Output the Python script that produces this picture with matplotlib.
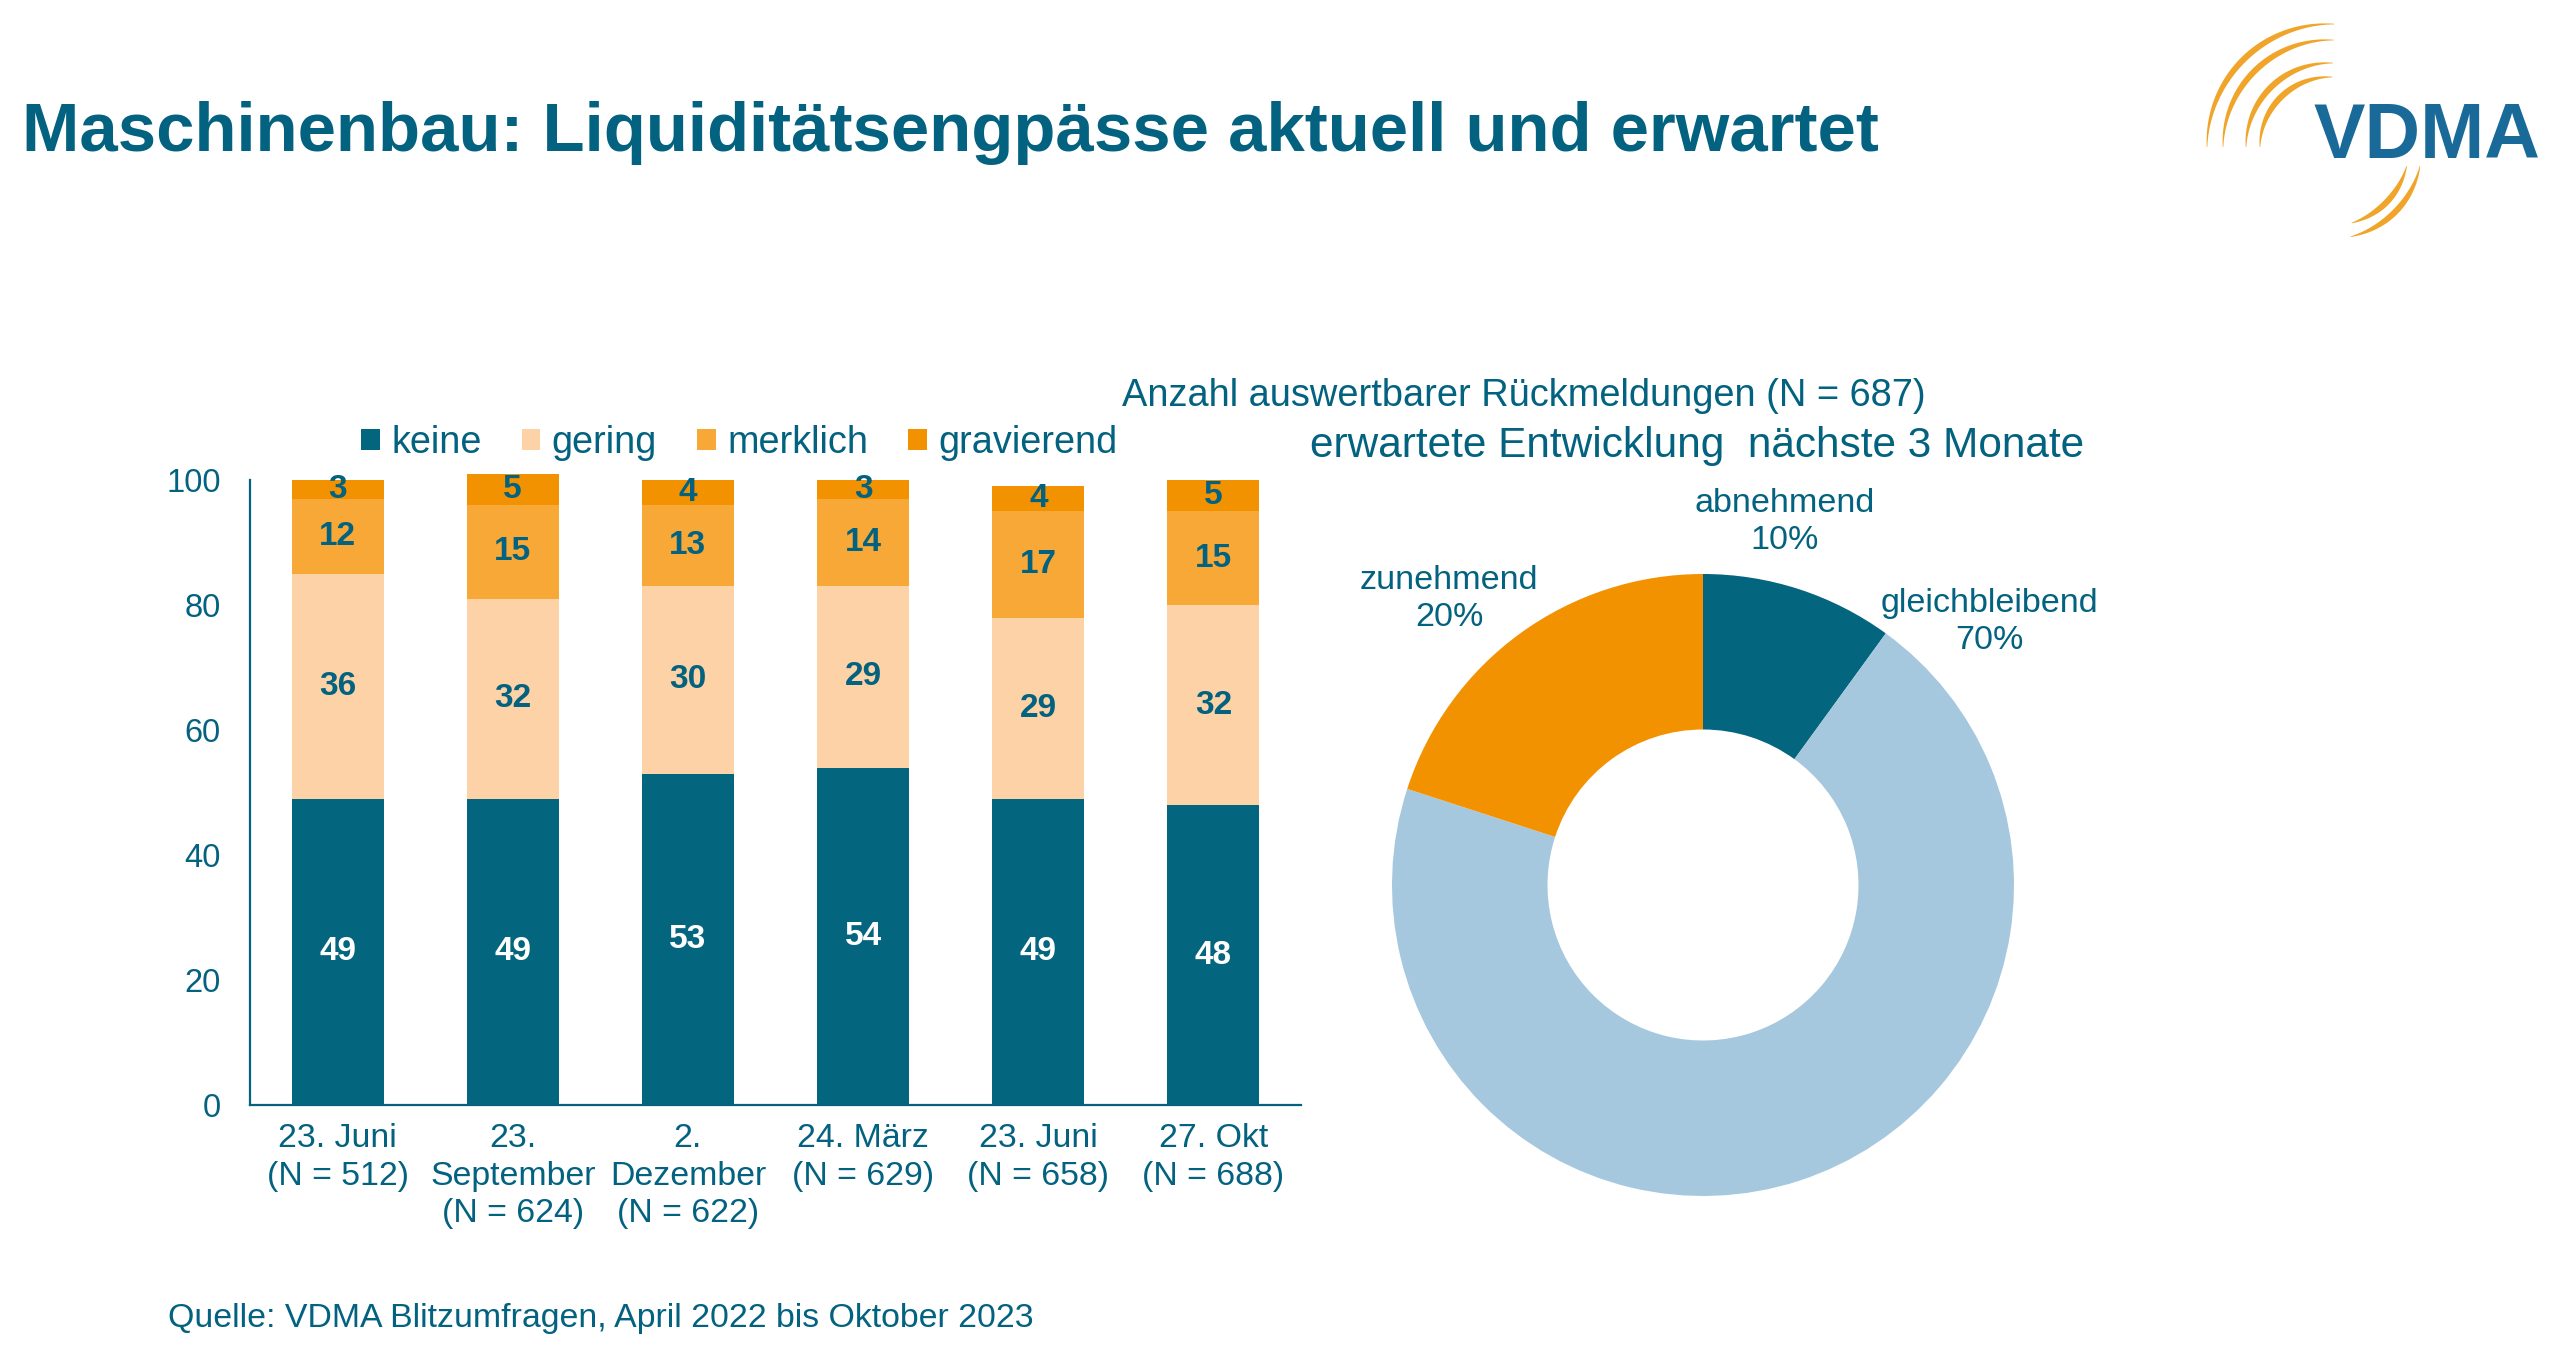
import numpy as np
import matplotlib
matplotlib.use("Agg")
import matplotlib.pyplot as plt
from matplotlib.patches import Patch, Polygon

plt.rcParams['font.family'] = ['Liberation Sans', 'DejaVu Sans']

# ---------------- data ----------------
categories = ["23. Juni\n(N = 512)", "23.\nSeptember\n(N = 624)", "2.\nDezember\n(N = 622)",
              "24. März\n(N = 629)", "23. Juni\n(N = 658)", "27. Okt\n(N = 688)"]
series_names = ["keine", "gering", "merklich", "gravierend"]
keine = [49, 49, 53, 54, 49, 48]
gering = [36, 32, 30, 29, 29, 32]
merklich = [12, 15, 13, 14, 17, 15]
gravierend = [3, 5, 4, 3, 4, 5]
y_ticks = [0, 20, 40, 60, 80, 100]

pie_labels = ["abnehmend", "gleichbleibend", "zunehmend"]
pie_values = [10, 70, 20]

title = "Maschinenbau: Liquiditätsengpässe aktuell und erwartet"
pie_title1 = "Anzahl auswertbarer Rückmeldungen (N = 687)"
pie_title2 = "erwartete Entwicklung  nächste 3 Monate"
source = "Quelle: VDMA Blitzumfragen, April 2022 bis Oktober 2023"

# ---------------- style ----------------
TEAL = "#03627F"
C_KEINE = "#04657F"
C_GERING = "#FDD2A7"
C_MERKLICH = "#F8A836"
C_GRAV = "#F39200"
C_LIGHTBLUE = "#A6C8DF"
LOGO_BLUE = "#1A6A99"
LOGO_ORANGE = "#F0A52A"

W, H = 2560, 1359
fig = plt.figure(figsize=(W / 100, H / 100), dpi=100)

# overlay in pixel coordinates for free text and logo
ov = fig.add_axes([0, 0, 1, 1])
ov.set_xlim(0, W)
ov.set_ylim(H, 0)
ov.axis("off")

ov.text(22, 151, title, fontsize=49.6, fontweight="bold", color=TEAL,
        ha="left", va="baseline")
ov.text(168, 1327, source, fontsize=24.4, color=TEAL, ha="left", va="baseline")
ov.text(1524, 396, pie_title1, fontsize=27.4, color=TEAL, ha="center", va="center")
ov.text(1697, 446, pie_title2, fontsize=30.5, color=TEAL, ha="center", va="center")

# ---- logo ----
cx, cy = 2330, 147
def arc(r, a0, a1, w):
    t = np.linspace(0, 1, 80)
    th = np.radians(a0 + (a1 - a0) * t)
    half = w / 2 * np.sin(np.pi * t) + 0.3
    xo = cx + (r + half) * np.cos(th)
    yo = cy - (r + half) * np.sin(th)
    xi = cx + (r - half) * np.cos(th)
    yi = cy - (r - half) * np.sin(th)
    pts = np.column_stack([np.concatenate([xo, xi[::-1]]), np.concatenate([yo, yi[::-1]])])
    ov.add_patch(Polygon(pts, closed=True, facecolor=LOGO_ORANGE, edgecolor="none"))

arc(123, 88, 180, 5.5)
arc(107, 88, 180, 5.5)
arc(84, 88, 180, 5.5)
arc(70, 88, 180, 5.5)
arc(79, -14, -74, 5.5)
arc(92, -12, -77, 5.5)
ov.text(2313, 158, "VDMA", fontsize=55.5, fontweight="bold", color=LOGO_BLUE,
        ha="left", va="baseline")

# ---------------- bar chart ----------------
ax = fig.add_axes([250 / W, 1 - 1105 / H, 1051 / W, 625 / H])
x = np.arange(len(categories))
bw = 0.525
bottom = np.zeros(len(categories))
colors = [C_KEINE, C_GERING, C_MERKLICH, C_GRAV]
txtcol = ["white", TEAL, TEAL, TEAL]
for vals, col, tc, name in zip([keine, gering, merklich, gravierend], colors, txtcol, series_names):
    vals = np.array(vals, dtype=float)
    ax.bar(x, vals, bw, bottom=bottom, color=col, label=name, clip_on=False, zorder=2)
    for xi, b, v in zip(x, bottom, vals):
        ax.text(xi, b + v / 2, f"{int(v)}", ha="center", va="center", fontsize=24,
                fontweight="bold", color=tc, zorder=3, clip_on=False)
    bottom += vals

ax.set_xlim(-0.5, len(categories) - 0.5)
ax.set_ylim(0, 100)
ax.set_yticks(y_ticks)
ax.set_xticks(x)
ax.set_xticklabels(categories, fontsize=24.4, color=TEAL, linespacing=1.28)
ax.tick_params(axis="y", length=0, pad=21, labelsize=23.5, labelcolor=TEAL)
ax.tick_params(axis="x", length=0, pad=13)
for s in ["top", "right"]:
    ax.spines[s].set_visible(False)
for s in ["left", "bottom"]:
    ax.spines[s].set_color(TEAL)
    ax.spines[s].set_linewidth(1.6)
ax.set_facecolor("none")

handles = [Patch(facecolor=c, edgecolor="none") for c in colors]
fig.legend(handles, series_names, loc="center left", bbox_to_anchor=(361 / W, 1 - 443 / H),
           ncol=4, frameon=False, fontsize=27.3, labelcolor=TEAL,
           handlelength=0.5, handleheight=0.5, handletextpad=0.3,
           columnspacing=1.05, borderpad=0, borderaxespad=0)

# ---------------- donut ----------------
R = 311
pcx, pcy = 1703, 885
pax = fig.add_axes([(pcx - R) / W, 1 - (pcy + R) / H, 2 * R / W, 2 * R / H])
pax.pie(pie_values, colors=[C_KEINE, C_LIGHTBLUE, C_GRAV], startangle=90, counterclock=False,
        radius=1, wedgeprops=dict(width=0.5, edgecolor="none"))
pax.set_xlim(-1, 1)
pax.set_ylim(-1, 1)
pax.set_aspect("equal")
pax.axis("off")

label_pos = [(1785, 522), (1989, 622), (1449, 599)]
for lab, val, (px, py) in zip(pie_labels, pie_values, label_pos):
    pax.text((px - pcx) / R, (pcy - py) / R, f"{lab}\n{val}%", ha="center", va="center",
             fontsize=24.6, color=TEAL, linespacing=1.25)

fig.savefig("out.png", dpi=100)
